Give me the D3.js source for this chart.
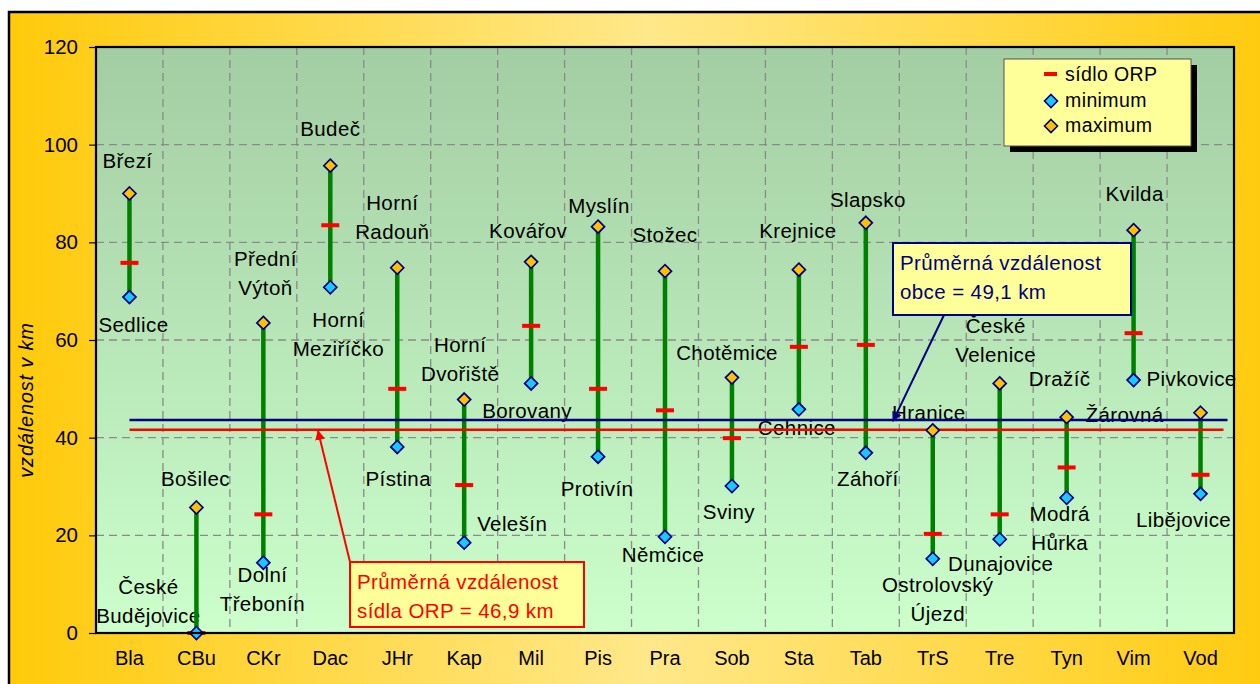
<!DOCTYPE html>
<html><head><meta charset="utf-8">
<script src="https://cdn.jsdelivr.net/npm/d3@7"></script>
<style>
html,body{margin:0;padding:0;background:#fff;}
svg{display:block;font-family:"Liberation Sans",Arial,sans-serif;}
</style></head>
<body>
<svg id="chart" width="1260" height="684"></svg>
<script>
// ---------- DATA ----------
const categories = ["Bla","CBu","CKr","Dac","JHr","Kap","Mil","Pis","Pra","Sob","Sta","Tab","TrS","Tre","Tyn","Vim","Vod"];
const maxValues = [90.0, 25.7, 63.5, 95.7, 74.8, 47.8, 76.0, 83.2, 74.1, 52.3, 74.4, 84.0, 41.5, 51.1, 44.2, 82.5, 45.1];
const minValues = [68.8, 0.0, 14.4, 70.8, 38.1, 18.5, 51.1, 36.1, 19.7, 30.1, 45.8, 36.9, 15.2, 19.2, 27.7, 51.8, 28.5];
const orpValues = [75.8, 0.0, 24.3, 83.5, 50.0, 30.3, 62.9, 50.0, 45.6, 39.9, 58.6, 59.0, 20.3, 24.3, 33.9, 61.4, 32.4];
const maxNames = [["Březí"],["Bošilec"],["Přední","Výtoň"],["Budeč"],["Horní","Radouň"],["Horní","Dvořiště"],["Kovářov"],["Myslín"],["Stožec"],["Chotěmice"],["Krejnice"],["Slapsko"],["Hranice"],["České","Velenice"],["Dražíč"],["Kvilda"],["Žárovná"]];
const minNames = [["Sedlice"],["České","Budějovice"],["Dolní","Třebonín"],["Horní","Meziříčko"],["Pístina"],["Velešín"],["Borovany"],["Protivín"],["Němčice"],["Sviny"],["Cehnice"],["Záhoří"],["Ostrolovský","Újezd"],["Dunajovice"],["Modrá","Hůrka"],["Pivkovice"],["Libějovice"]];
const yTicks = [0, 20, 40, 60, 80, 100, 120];
const yTitle = "vzdálenost v km";
const legendLabels = ["sídlo ORP", "minimum", "maximum"];
const avgObceLine = 43.6;   // drawn position of the blue line
const avgOrpLine = 41.6;    // drawn position of the red line
const avgObceText = ["Průměrná vzdálenost", "obce = 49,1 km"];
const avgOrpText = ["Průměrná vzdálenost", "sídla ORP = 46,9 km"];

// ---------- LAYOUT (label offsets relative to markers, px) ----------
const maxLabelOffset = [[-2,-26],[-1,-21],[2,-57],[0,-30],[-5,-58],[-4,-48],[-3,-24],[1,-14],[0,-29],[-5,-18],[-1,-32],[2,-16],[-4,-10],[-4,-50],[-7,-31],[1,-29],[-76,9]];
const minLabelOffset = [[4,35],[-48,-39],[-1,19],[8,40],[1,39],[48,-12],[-4,35],[-1,39],[-2,25],[-3,33],[-2,26],[2,33],[5,33],[1,32],[-7,23],[58,6],[-17,33]];

const svg = d3.select("#chart");
const W = 1260, H = 684;
const L = 96, R = 1234, T = 47, B = 633;

const defs = svg.append("defs");
const bg = defs.append("linearGradient").attr("id","bg").attr("x1","0").attr("x2","1").attr("y1","0").attr("y2","0");
bg.append("stop").attr("offset","0%").attr("stop-color","#FFCA0A");
bg.append("stop").attr("offset","50%").attr("stop-color","#FFE88A");
bg.append("stop").attr("offset","100%").attr("stop-color","#FFCA0A");
const pg = defs.append("linearGradient").attr("id","pg").attr("x1","0").attr("x2","0").attr("y1","0").attr("y2","1");
pg.append("stop").attr("offset","0%").attr("stop-color","#A3CDA3");
pg.append("stop").attr("offset","100%").attr("stop-color","#CCFFCC");
function marker(id, color){
  defs.append("marker").attr("id",id).attr("viewBox","0 0 10 10").attr("refX",9).attr("refY",5)
    .attr("markerWidth",5).attr("markerHeight",5).attr("orient","auto")
    .append("path").attr("d","M0,0 L10,5 L0,10 z").attr("fill",color);
}
marker("arrB","#000080"); marker("arrR","#FF0000");

// outer panel
svg.append("rect").attr("x",9).attr("y",12).attr("width",W+20).attr("height",H+20)
  .attr("fill","url(#bg)").attr("stroke","#000").attr("stroke-width",2.5);

const x = d3.scaleBand().domain(categories).range([L,R]).padding(0);
const y = d3.scaleLinear().domain([0,120]).range([B,T]);
const cx = c => x(c) + x.bandwidth()/2;

// plot area
svg.append("rect").attr("x",L).attr("y",T).attr("width",R-L).attr("height",B-T).attr("fill","url(#pg)");

// grid
const grid = svg.append("g").attr("stroke","#8a8a8a").attr("stroke-width",1.3).attr("stroke-dasharray","8,5");
grid.selectAll("line.h").data(yTicks.filter(t=>t>0 && t<120)).join("line")
  .attr("x1",L).attr("x2",R).attr("y1",d=>y(d)).attr("y2",d=>y(d));
grid.selectAll("line.v").data(categories.slice(1)).join("line").attr("class","v")
  .attr("x1",d=>x(d)).attr("x2",d=>x(d)).attr("y1",T).attr("y2",B);

// axes
const yAxis = svg.append("g").attr("transform",`translate(${L},0)`)
  .call(d3.axisLeft(y).tickValues(yTicks).tickSize(7).tickPadding(11));
yAxis.select(".domain").remove();
yAxis.selectAll("line").attr("stroke","#000").attr("stroke-width",1.2);
yAxis.selectAll("text").attr("font-size",20.5).attr("fill","#000").attr("font-family","Liberation Sans, Arial");

const xAxis = svg.append("g").attr("transform",`translate(0,${B})`)
  .call(d3.axisBottom(x).tickSize(0).tickPadding(18));
xAxis.select(".domain").remove();
xAxis.selectAll("text").attr("font-size",20).attr("fill","#000").attr("font-family","Liberation Sans, Arial");

// y title
svg.append("text").attr("transform","translate(33,400) rotate(-90)").attr("text-anchor","middle")
  .attr("font-size",20).attr("font-style","italic").attr("letter-spacing",0.8).text(yTitle);

// data labels
const lab = svg.append("g").attr("font-size",20.5).attr("letter-spacing",0.4).attr("fill","#000").attr("text-anchor","middle");
function addLabel(lines, px, py){
  const t = lab.append("text").attr("x",px).attr("y",py);
  lines.forEach((s,i)=> t.append("tspan").attr("x",px).attr("y",py + i*29).text(s));
}
categories.forEach((c,i)=>{
  addLabel(maxNames[i], cx(c)+maxLabelOffset[i][0], y(maxValues[i])+maxLabelOffset[i][1]);
  addLabel(minNames[i], cx(c)+minLabelOffset[i][0], y(minValues[i])+minLabelOffset[i][1]);
});

// range lines
svg.append("g").selectAll("line").data(categories).join("line")
  .attr("x1",cx).attr("x2",cx).attr("y1",(d,i)=>y(maxValues[i])).attr("y2",(d,i)=>y(minValues[i]))
  .attr("stroke","#008000").attr("stroke-width",4.5);
// ORP marks
svg.append("g").selectAll("line").data(categories).join("line")
  .attr("x1",d=>cx(d)-9).attr("x2",d=>cx(d)+9).attr("y1",(d,i)=>y(orpValues[i])).attr("y2",(d,i)=>y(orpValues[i]))
  .attr("stroke","#FF0000").attr("stroke-width",4);

// average lines
const xEnd = cx(categories[categories.length-1]);
svg.append("line").attr("x1",cx(categories[0])).attr("x2",xEnd+27).attr("y1",y(avgObceLine)).attr("y2",y(avgObceLine))
  .attr("stroke","#000080").attr("stroke-width",2.5);
svg.append("line").attr("x1",cx(categories[0])).attr("x2",xEnd+23).attr("y1",y(avgOrpLine)).attr("y2",y(avgOrpLine))
  .attr("stroke","#FF0000").attr("stroke-width",2.5);

// diamonds
const dia = "M0,-6.5 L6.5,0 L0,6.5 L-6.5,0 Z";
svg.append("g").selectAll("path").data(categories).join("path")
  .attr("transform",(d,i)=>`translate(${cx(d)},${y(minValues[i])})`).attr("d",dia)
  .attr("fill","#19C8FF").attr("stroke","#000080").attr("stroke-width",1.7);
svg.append("g").selectAll("path").data(categories).join("path")
  .attr("transform",(d,i)=>`translate(${cx(d)},${y(maxValues[i])})`).attr("d",dia)
  .attr("fill","#FFC000").attr("stroke","#000080").attr("stroke-width",1.7);

// plot border
svg.append("rect").attr("x",L).attr("y",T).attr("width",R-L).attr("height",B-T)
  .attr("fill","none").attr("stroke","#000").attr("stroke-width",2.2);

// legend
const lg = svg.append("g");
lg.append("rect").attr("x",1010).attr("y",65).attr("width",187).attr("height",87).attr("fill","#000");
lg.append("rect").attr("x",1004).attr("y",59).attr("width",187).attr("height",87).attr("fill","#FFFF99").attr("stroke","#555").attr("stroke-width",1);
lg.append("line").attr("x1",1044).attr("x2",1057).attr("y1",74).attr("y2",74).attr("stroke","#FF0000").attr("stroke-width",4);
lg.append("path").attr("d",dia).attr("transform","translate(1051,101)").attr("fill","#19C8FF").attr("stroke","#000080").attr("stroke-width",1.6);
lg.append("path").attr("d",dia).attr("transform","translate(1051,126)").attr("fill","#FFC000").attr("stroke","#000080").attr("stroke-width",1.6);
lg.selectAll("text").data(legendLabels).join("text").attr("x",1065).attr("y",(d,i)=>81+i*25.5)
  .attr("font-size",19.5).attr("letter-spacing",0.4).text(d=>d);

// callouts
function callout(bx,by,bw,bh,color,lines,from,to,mk){
  svg.append("line").attr("x1",from[0]).attr("y1",from[1]).attr("x2",to[0]).attr("y2",to[1])
    .attr("stroke",color).attr("stroke-width",2).attr("marker-end",`url(#${mk})`);
  svg.append("rect").attr("x",bx).attr("y",by).attr("width",bw).attr("height",bh)
    .attr("fill","#FFFF99").attr("stroke",color).attr("stroke-width",2);
  lines.forEach((s,i)=> svg.append("text").attr("x",bx+7).attr("y",by+27+i*28.5)
    .attr("font-size",20.5).attr("letter-spacing",0.4).attr("fill",color).text(s));
}
callout(893,243,238,72,"#000080",avgObceText,[944,315],[893,y(avgObceLine)+1],"arrB");
callout(350,562,234,65,"#FF0000",avgOrpText,[350,562],[318,y(avgOrpLine)+1],"arrR");
</script>
</body></html>
